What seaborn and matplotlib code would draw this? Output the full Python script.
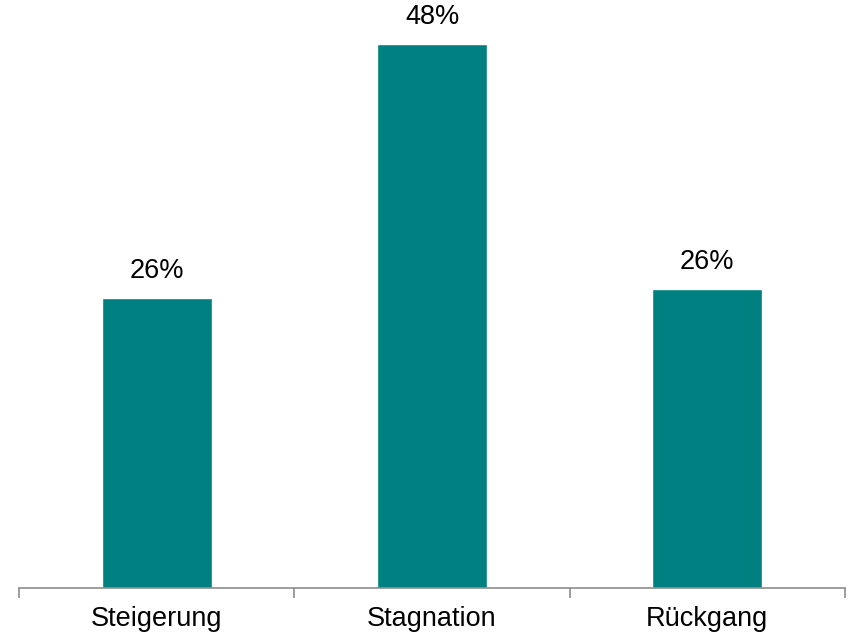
import matplotlib
matplotlib.use("Agg")
import matplotlib.pyplot as plt
import seaborn as sns
import pandas as pd

categories = ["Steigerung", "Stagnation", "Rückgang"]
values = [25.7, 48.2, 26.5]
labels = ["26%", "48%", "26%"]

sns.set_style("white")
plt.rcParams["font.family"] = ["Liberation Sans", "DejaVu Sans"]

df = pd.DataFrame({"cat": categories, "val": values})

fig = plt.figure(figsize=(8.48, 6.34), dpi=100)
ax = fig.add_axes([0.0224, 0.0726, 0.9741, 0.8904])
sns.barplot(data=df, x="cat", y="val", color="#008080", saturation=1, width=0.4, ax=ax)

for i, (v, lab) in enumerate(zip(values, labels)):
    ax.annotate(lab, (i, v), xytext=(0, 10), textcoords="offset points",
                ha="center", va="bottom", fontsize=19.5, color="black")

ax.set_xlim(-0.5, 2.5)
ax.set_ylim(0, 50)
ax.set_xlabel("")
ax.set_ylabel("")
ax.set_yticks([])
for s in ["top", "right", "left"]:
    ax.spines[s].set_visible(False)
ax.spines["bottom"].set_color("#8c8c8c")
ax.spines["bottom"].set_linewidth(1.2)
ax.set_xticks([-0.5, 0.5, 1.5, 2.5], minor=True)
ax.tick_params(axis="x", which="minor", bottom=True, length=7, color="#8c8c8c", width=1.2, direction="out")
ax.tick_params(axis="x", which="major", bottom=False, length=0, labelsize=19.5, pad=13, labelcolor="black")

fig.savefig("out.png", dpi=100)
